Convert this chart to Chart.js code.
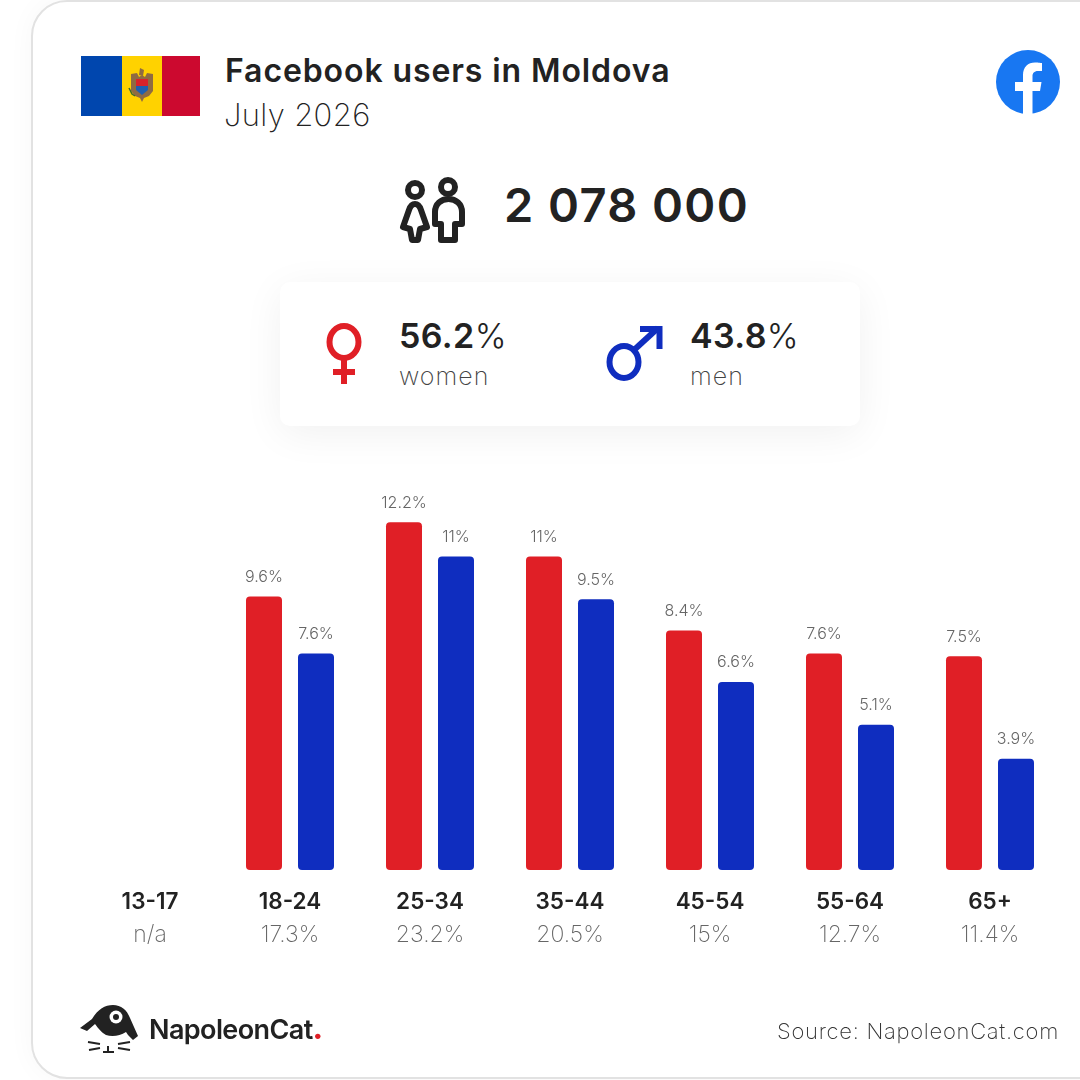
<!DOCTYPE html>
<html>
<head>
<meta charset="utf-8">
<title>Facebook users in Moldova</title>
<script src="https://cdn.jsdelivr.net/npm/chart.js@4"></script>
<style>
  html, body { margin: 0; padding: 0; background: #fff; }
  body { width: 1080px; height: 1080px; position: relative; overflow: hidden; font-family: Inter, sans-serif; color: #222; }
  .card { position: absolute; left: 31px; top: 0; width: 1100px; height: 1079px; box-sizing: border-box; border: 2px solid #e2e2e2; border-radius: 36px; background: #fff; box-shadow: 0 0 28px rgba(0,0,0,0.035); }
  .abs { position: absolute; white-space: nowrap; }
  .title { left: 225px; top: 52px; font-size: 32px; font-weight: 600; line-height: 38px; letter-spacing: 0.9px; }
  .date { left: 224px; top: 96px; font-size: 31px; font-weight: 200; line-height: 38px; letter-spacing: 0.35px; }
  .total { left: 504px; top: 176px; font-size: 47px; font-weight: 600; line-height: 58px; letter-spacing: 1.4px; }
  .panel { position: absolute; left: 280px; top: 282px; width: 580px; height: 144px; background: #fff; border-radius: 10px; box-shadow: 0 8px 40px rgba(0,0,0,0.06); }
  .pct { font-size: 34px; font-weight: 600; line-height: 40px; letter-spacing: 0.4px; }
  .pct span { font-weight: 300; }
  .sub { font-size: 25px; font-weight: 200; line-height: 30px; color: #444; letter-spacing: 1px; }
  .brand { left: 149px; top: 1012px; font-size: 27px; font-weight: 600; line-height: 36px; letter-spacing: -0.6px; }
  .brand b { color: #e01f26; }
  .source { right: 21px; top: 1017px; font-size: 22px; font-weight: 200; line-height: 28px; color: #333; letter-spacing: 0.72px; }
  canvas#ageChart { position: absolute; left: 0; top: 0; }
  svg { position: absolute; }
</style>
</head>
<body>
<div class="card"></div>

<svg style="left:81px;top:55px" width="120" height="62" viewBox="0 0 120 62">
  <rect x="0" y="1" width="41" height="60" fill="#0046ae"/>
  <rect x="41" y="1" width="40" height="60" fill="#ffd200"/>
  <rect x="81" y="1" width="38" height="60" fill="#cc092f"/>
  <path d="M50 19l6-1 2 4 3-2 3 2 2-4 6 1v17l-4 5-5 2-2 4-2-4-5-2-4-5z" fill="#8f6b42"/>
  <path d="M58 20l1-7 4 2-1 6z" fill="#8f6b42"/>
  <rect x="55" y="24" width="12" height="7" fill="#d8232a"/>
  <path d="M55 31h12v4l-6 5-6-5z" fill="#1f5fb0"/>
  <path d="M48 33l3 6 3 2" stroke="#3d6b2e" stroke-width="1.500" fill="none"/>
</svg>

<div class="abs title">Facebook users in Moldova</div>
<div class="abs date">July 2026</div>

<svg style="left:996px;top:50px" width="64" height="64" viewBox="0 0 64 64">
  <circle cx="32" cy="32" r="32" fill="#1877f2"/>
  <path d="M27 64V41h-8V32h8v-7c0-8 5-12.500 12-12.500 3.500 0 7 .6 7 .6v8h-4c-4 0-5.500 2.500-5.500 5V32h9l-1.500 9h-7.500v23z" fill="#fff"/>
</svg>

<svg style="left:398px;top:176px" width="70" height="70" viewBox="0 0 70 70" fill="none" stroke="#222" stroke-width="6" stroke-linejoin="round">
  <circle cx="17" cy="14" r="7"/>
  <path d="M17 28C13 28 12 31 11 34L5 51L12 53L14 64H20L22 53L29 51L23 34C22 31 21 28 17 28Z"/>
  <circle cx="50" cy="11" r="7"/>
  <path d="M43 48H37V36C37 28 43 23 50.500 23S64 28 64 36V48H57V64H43Z"/>
</svg>
<div class="abs total">2 078 000</div>

<div class="panel"></div>
<svg style="left:320px;top:320px" width="50" height="66" viewBox="0 0 50 66" fill="none" stroke="#e01f26" stroke-width="6">
  <ellipse cx="24" cy="22" rx="14.500" ry="16"/>
  <path d="M24 38v26M13 52h22"/>
</svg>
<div class="abs pct" style="left:399px;top:316px">56.2<span>%</span></div>
<div class="abs sub" style="left:399px;top:361px">women</div>
<svg style="left:600px;top:320px" width="70" height="66" viewBox="0 0 70 66" fill="none" stroke="#0f2dbf" stroke-width="6">
  <ellipse cx="24" cy="42" rx="14.500" ry="16"/>
  <path d="M34 30L58 8"/>
  <path d="M40 9h19.500v20"/>
</svg>
<div class="abs pct" style="left:690px;top:316px">43.8<span>%</span></div>
<div class="abs sub" style="left:690px;top:361px">men</div>

<canvas id="ageChart" width="1080" height="1080"></canvas>

<svg style="left:78px;top:1002px" width="64" height="54" viewBox="0 0 64 54">
  <path d="M2 26L14 17C20 7 27 3 35 3C43 3 49 8 52 16L60 34L55 38L50 33L48 30C42 34 34 35 28 33C24 31 20 26 17 22L9 29Z" fill="#222"/>
  <circle cx="38" cy="15" r="6.500" fill="#fff"/>
  <circle cx="38" cy="15" r="3" fill="#222"/>
  <path d="M10 40L22 42M11 48L22 46M30 44v6M25 50h11M40 42L52 40M40 46L52 48" stroke="#222" stroke-width="2" fill="none"/>
</svg>
<div class="abs brand">NapoleonCat<b>.</b></div>
<div class="abs source">Source: NapoleonCat.com</div>

<script>
// age groups, values
const ageGroups = ['13-17', '18-24', '25-34', '35-44', '45-54', '55-64', '65+'];
const ageShares = ['n/a', '17.3%', '23.2%', '20.5%', '15%', '12.7%', '11.4%'];
const women = [null, 9.6, 12.2, 11, 8.4, 7.6, 7.5];
const men = [null, 7.6, 11, 9.5, 6.6, 5.1, 3.9];

// value labels over each bar, gets drawn after the datasets
const barLabels = {
    id: 'barLabels',
    afterDatasetsDraw(chart) {
        const c = chart.ctx;
        c.save();
        c.font = '300 16px Inter';
        c.fillStyle = '#666';
        c.textAlign = 'center';
        c.textBaseline = 'alphabetic';
        chart.data.datasets.forEach((ds, i) => {
            chart.getDatasetMeta(i).data.forEach((bar, j) => {
                if (ds.data[j] === null) return;
                c.fillText(ds.data[j] + '%', bar.x, bar.y - 14.5);
            });
        });
        c.restore();
    }
};

const ctx = document.getElementById('ageChart').getContext('2d');
new Chart(ctx, {
    type: 'bar',
    data: {
        labels: ageGroups,
        datasets: [
            { label: 'Women', data: women, backgroundColor: '#e01f26' },
            { label: 'Men', data: men, backgroundColor: '#0f2dbf' }
        ]
    },
    options: {
        responsive: false,
        animation: false,
        devicePixelRatio: 1,
        layout: { padding: { left: 80, right: 20, top: 0, bottom: 0 } },
        datasets: {
            bar: {
                categoryPercentage: 104 / 140,
                barPercentage: 36 / 52,
                borderRadius: 4,
                borderSkipped: false
            }
        },
        plugins: { legend: { display: false }, tooltip: { enabled: false } },
        scales: {
            y: {
                display: false,
                min: 0,
                max: 30.526
            },
            x: {
                position: 'bottom',
                grid: { display: false },
                border: { display: false },
                ticks: {
                    color: '#222',
                    font: { family: 'Inter', size: 22.5, weight: '600' },
                    padding: 11,
                    maxRotation: 0,
                    autoSkip: false
                },
                afterFit(scale) { scale.height = 43; }
            },
            shares: {
                type: 'category',
                position: 'bottom',
                labels: ageShares,
                grid: { display: false },
                border: { display: false },
                ticks: {
                    color: '#666',
                    font: { family: 'Inter', size: 23, weight: '200' },
                    padding: 0,
                    maxRotation: 0,
                    autoSkip: false
                },
                afterFit(scale) { scale.height = 167; }
            }
        }
    },
    plugins: [barLabels]
});
</script>
</body>
</html>
